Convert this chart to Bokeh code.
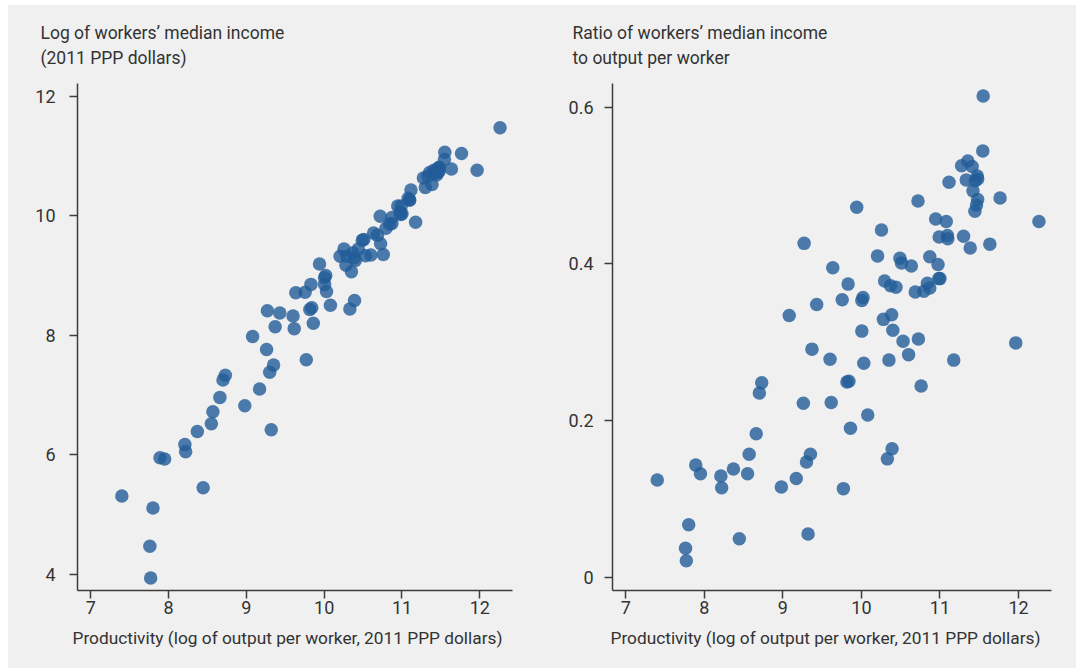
from bokeh.plotting import figure
from bokeh.layouts import row
from bokeh.models import Range1d, FixedTicker, Title, CustomJSTickFormatter
from bokeh.embed import file_html
from bokeh.resources import INLINE

# ---- data ----
productivity = [7.40, 7.76, 7.77, 7.80, 7.89, 7.95, 8.21, 8.22, 8.37, 8.445,
                8.55, 8.57, 8.66, 8.70, 8.73, 8.98, 9.08, 9.17, 9.26, 9.27,
                9.30, 9.32, 9.35, 9.37, 9.43, 9.60, 9.615, 9.635, 9.755, 9.77,
                9.815, 9.83, 9.84, 9.86, 9.94, 10.005, 10.005, 10.02, 10.03, 10.08,
                10.205, 10.255, 10.28, 10.295, 10.33, 10.35, 10.37, 10.385, 10.39, 10.40,
                10.44, 10.49, 10.51, 10.53, 10.60, 10.635, 10.685, 10.72, 10.725, 10.76,
                10.795, 10.84, 10.87, 10.87, 10.945, 10.975, 10.985, 10.99, 11.00, 11.08,
                11.095, 11.10, 11.115, 11.175, 11.275, 11.30, 11.335, 11.355, 11.385, 11.41,
                11.42, 11.445, 11.45, 11.465, 11.475, 11.48, 11.48, 11.545, 11.55, 11.635,
                11.765, 11.965, 12.26]

log_median_income = [5.31, 4.47, 3.94, 5.11, 5.95, 5.93, 6.17, 6.05, 6.39, 5.45,
                     6.52, 6.72, 6.96, 7.25, 7.33, 6.82, 7.98, 7.10, 7.76, 8.41,
                     7.38, 6.42, 7.50, 8.14, 8.37, 8.32, 8.11, 8.71, 8.72, 7.59,
                     8.43, 8.85, 8.46, 8.20, 9.19, 8.96, 8.85, 9.00, 8.73, 8.50,
                     9.32, 9.44, 9.17, 9.32, 8.44, 9.06, 9.38, 9.29, 8.58, 9.25,
                     9.44, 9.59, 9.60, 9.33, 9.34, 9.71, 9.67, 9.99, 9.53, 9.35,
                     9.79, 9.86, 9.97, 9.87, 10.16, 10.06, 10.02, 10.16, 10.03, 10.29,
                     10.26, 10.26, 10.43, 9.89, 10.63, 10.47, 10.66, 10.72, 10.52, 10.76,
                     10.71, 10.68, 10.77, 10.72, 10.81, 10.80, 10.75, 10.94, 11.06, 10.78,
                     11.04, 10.76, 11.47]

income_ratio = [0.124, 0.037, 0.021, 0.067, 0.143, 0.132, 0.129, 0.114, 0.138, 0.049,
                0.132, 0.157, 0.183, 0.235, 0.248, 0.115, 0.334, 0.126, 0.222, 0.426,
                0.147, 0.055, 0.157, 0.291, 0.348, 0.278, 0.223, 0.395, 0.354, 0.113,
                0.249, 0.374, 0.250, 0.190, 0.472, 0.353, 0.314, 0.357, 0.273, 0.207,
                0.410, 0.443, 0.329, 0.378, 0.151, 0.277, 0.372, 0.335, 0.164, 0.315,
                0.370, 0.407, 0.401, 0.301, 0.284, 0.397, 0.364, 0.480, 0.304, 0.244,
                0.365, 0.375, 0.409, 0.369, 0.457, 0.399, 0.381, 0.434, 0.381, 0.454,
                0.436, 0.432, 0.504, 0.277, 0.525, 0.435, 0.507, 0.531, 0.420, 0.524,
                0.493, 0.467, 0.506, 0.475, 0.512, 0.508, 0.482, 0.544, 0.614, 0.425,
                0.484, 0.299, 0.454]

x_ticks = [7, 8, 9, 10, 11, 12]
left_y_ticks = [4, 6, 8, 10, 12]
right_y_ticks = [0, 0.2, 0.4, 0.6]

left_title_lines = ["Log of workers\u2019 median income", "(2011 PPP dollars)"]
right_title_lines = ["Ratio of workers\u2019 median income", "to output per worker"]
x_label = "Productivity (log of output per worker, 2011 PPP dollars)"

# ---- style ----
BG = "#f0f0f0"
DOT = "#225c98"
AXIS = "#3c3c3c"
TEXT = "#333333"
FONT = "Roboto"
TITLE_FS = "17.5px"
LABEL_FS = "17.3px"
TICK_FS = "18px"


def make_panel(ys, y_range, y_ticks, title_lines, border_left, border_right,
               title_offset, label_offset, y_standoff, y_formatter=None):
    p = figure(width=534, height=663, title=None,
               x_range=Range1d(6.83, 12.42), y_range=y_range,
               output_backend="svg", toolbar_location=None,
               min_border_left=border_left, min_border_right=border_right,
               min_border_top=78, min_border_bottom=78)
    p.background_fill_color = BG
    p.border_fill_color = BG
    p.outline_line_color = None
    p.grid.visible = False

    p.scatter(productivity, ys, size=13.5, fill_color=DOT, fill_alpha=0.8, line_color=None)

    # two-line heading above the frame: second line closest to the frame
    p.add_layout(Title(text=title_lines[1], align="left", offset=title_offset,
                       text_font=FONT, text_font_size=TITLE_FS, text_font_style="normal",
                       text_color=TEXT, standoff=32), "above")
    p.add_layout(Title(text=title_lines[0], align="left", offset=title_offset,
                       text_font=FONT, text_font_size=TITLE_FS, text_font_style="normal",
                       text_color=TEXT, standoff=-27), "above")

    # x-axis caption
    p.add_layout(Title(text=x_label, align="left", offset=label_offset, text_font=FONT,
                       text_font_size=LABEL_FS, text_font_style="normal", text_color=TEXT,
                       standoff=18), "below")

    p.xaxis.ticker = FixedTicker(ticks=x_ticks)
    p.yaxis.ticker = FixedTicker(ticks=y_ticks)
    if y_formatter is not None:
        p.yaxis.formatter = y_formatter
    for ax in (p.xaxis[0], p.yaxis[0]):
        ax.axis_line_color = AXIS
        ax.axis_line_width = 1.5
        ax.major_tick_line_color = AXIS
        ax.major_tick_line_width = 1.5
        ax.major_tick_out = 8
        ax.major_tick_in = 0
        ax.minor_tick_line_color = None
        ax.major_label_text_font = FONT
        ax.major_label_text_font_size = TICK_FS
        ax.major_label_text_color = TEXT
    p.xaxis.major_label_standoff = 2
    p.yaxis.major_label_standoff = y_standoff
    return p


left = make_panel(log_median_income, Range1d(3.73, 12.21), left_y_ticks, left_title_lines,
                  69, 30, -37, -5, 14)
right = make_panel(income_ratio, Range1d(-0.017, 0.63), right_y_ticks, right_title_lines,
                   70, 25, -40, -2, 11,
                   CustomJSTickFormatter(code="return tick === 0 ? '0' : tick.toFixed(1);"))

layout = row(left, right, margin=(5, 0, 0, 8), styles={"background-color": BG})
open("out.html", "w").write(file_html(layout, INLINE))
